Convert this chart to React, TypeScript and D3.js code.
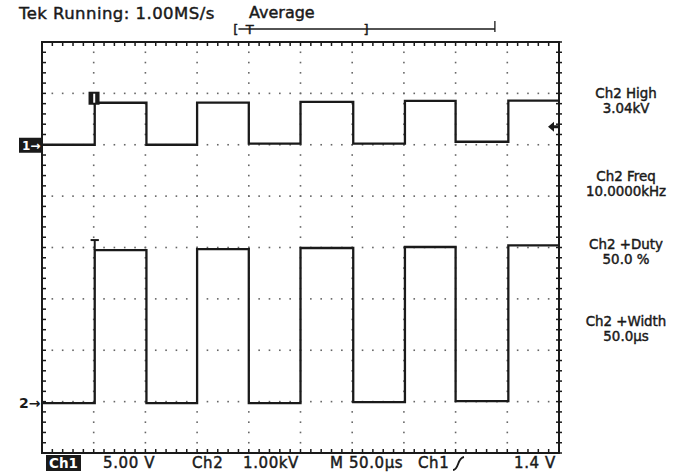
import React from 'react';
import * as d3 from 'd3';

// edge times of the square waves (µs)
const edgeTimes = [0, 51, 101, 150, 200, 250, 301, 351, 400, 451, 500];
// Ch1 level after each edge (V)
const ch1Volts = [0, 4.09, 0.0, 4.1, 0.1, 4.18, 0.1, 4.27, 0.29, 4.3, 4.3];
// Ch2 level after each edge (kV)
const ch2KVolts = [0, 2.98, 0.0, 3.0, 0.0, 3.02, 0.02, 3.04, 0.04, 3.07, 3.07];

const ch1VoltsPerDiv = 5;
const ch2KVPerDiv = 1;
const ch1Offset = 2.0; // divisions above centre
const ch2Offset = -3.03;

const measurements = [
  ['Ch2 High', '3.04kV'],
  ['Ch2 Freq', '10.0000kHz'],
  ['Ch2 +Duty', '50.0 %'],
  ['Ch2 +Width', '50.0µs'],
];
const measureY = [98, 181, 249, 326];

const bottomLabels = [
  { text: '5.00 V', x: 103 },
  { text: 'Ch2', x: 192 },
  { text: '1.00kV', x: 243 },
  { text: 'M 50.0µs', x: 330 },
  { text: 'Ch1', x: 418 },
  { text: '1.4 V', x: 514 },
];

const W = 685, H = 472;
const left = 42, right = 559, top = 42, bottom = 453;
const font = "'DejaVu Sans', sans-serif";
const ink = '#1a1a1a';
const heavy = { stroke: ink, strokeWidth: 0.45 };

export default function App() {
  const x = d3.scaleLinear().domain([0, 500]).range([left, right]);
  const y = d3.scaleLinear().domain([-4, 4]).range([bottom, top]);

  const ch1 = edgeTimes.map((t, i) => ({ t, v: ch1Offset + ch1Volts[i] / ch1VoltsPerDiv }));
  const ch2 = edgeTimes.map((t, i) => ({ t, v: ch2Offset + ch2KVolts[i] / ch2KVPerDiv }));
  const line = d3.line<{ t: number; v: number }>()
    .x(d => x(d.t))
    .y(d => y(d.v))
    .curve(d3.curveStepAfter);

  const minorT = d3.range(0, 500.01, 10);
  const minorV = d3.range(-4, 4.01, 0.2);
  const majorT = d3.range(50, 500, 50);
  const majorV = d3.range(-3, 4, 1);

  const dots: JSX.Element[] = [];
  majorT.forEach(t => minorV.slice(1, -1).forEach(v => {
    dots.push(<rect key={'v' + t + '_' + v} x={x(t) - 0.8} y={y(v) - 0.8} width={1.6} height={1.6} fill="#666" />);
  }));
  majorV.forEach(v => minorT.slice(1, -1).forEach(t => {
    dots.push(<rect key={'h' + v + '_' + t} x={x(t) - 0.8} y={y(v) - 0.8} width={1.6} height={1.6} fill="#666" />);
  }));

  const ch1High = y(ch1Offset + ch1Volts[1] / ch1VoltsPerDiv);
  const ch2High = y(ch2Offset + ch2KVolts[1] / ch2KVPerDiv);

  return (
    <svg width={W} height={H} style={{ position: 'absolute', left: 0, top: 0, background: '#fff' }}>
      <text x={19} y={19} fontFamily={font} fontSize={16.5} letterSpacing={0.45} fill={ink} {...heavy}>Tek Running: 1.00MS/s</text>
      <text x={249} y={18} fontFamily={font} fontSize={16} fill={ink} {...heavy}>Average</text>

      {/* trigger position bar */}
      <line x1={x(190)} x2={x(438)} y1={29} y2={29} stroke={ink} strokeWidth={1.3} />
      <text x={x(185)} y={34} fontFamily={font} fontSize={13} fill={ink} {...heavy}>[</text>
      <text x={x(197)} y={34} fontFamily={font} fontSize={13} fill={ink} {...heavy}>T</text>
      <text x={x(311)} y={34} fontFamily={font} fontSize={13} fill={ink} {...heavy}>]</text>
      <line x1={x(438)} x2={x(438)} y1={21} y2={32} stroke={ink} strokeWidth={1.3} />

      {dots}

      {/* border + ticks */}
      <rect x={left} y={top} width={right - left} height={bottom - top} fill="none" stroke={ink} strokeWidth={2} />
      {minorT.map(t => (
        <g key={'tt' + t}>
          <line x1={x(t)} x2={x(t)} y1={top} y2={top + 4} stroke={ink} strokeWidth={1.5} />
          <line x1={x(t)} x2={x(t)} y1={bottom} y2={bottom - 4} stroke={ink} strokeWidth={1.5} />
        </g>
      ))}
      {minorV.map(v => (
        <g key={'tv' + v}>
          <line x1={left} x2={left + 4} y1={y(v)} y2={y(v)} stroke={ink} strokeWidth={1.5} />
          <line x1={right - 3} x2={right + 3} y1={y(v)} y2={y(v)} stroke={ink} strokeWidth={1.5} />
        </g>
      ))}

      {/* traces */}
      <path d={line(ch1) || ''} fill="none" stroke={ink} strokeWidth={2.3} />
      <path d={line(ch2) || ''} fill="none" stroke={ink} strokeWidth={2.3} />

      {/* channel markers */}
      <rect x={19} y={y(ch1Offset) - 7} width={22} height={15} fill={ink} />
      <text x={22} y={y(ch1Offset) + 5} fontFamily={font} fontSize={12} fontWeight="bold" fill="#fff">1→</text>
      <text x={19} y={y(ch2Offset) + 5} fontFamily={font} fontSize={14} fontWeight="bold" fill={ink}>2→</text>
      <rect x={x(45)} y={ch1High - 11} width={11} height={13} fill={ink} />
      <line x1={x(50.5)} x2={x(50.5)} y1={ch1High - 9} y2={ch1High} stroke="#fff" strokeWidth={2} />
      <line x1={x(47)} x2={x(55)} y1={ch2High - 10} y2={ch2High - 10} stroke={ink} strokeWidth={2} />
      <line x1={x(51)} x2={x(51)} y1={ch2High - 10} y2={ch2High} stroke={ink} strokeWidth={2} />
      {/* trigger level arrow */}
      <path d={`M${right - 11},${y(2.35)} l6,-5 v3.5 h5 v3 h-5 v3.5 z`} fill={ink} />

      {/* measurements */}
      {measurements.map((m, i) => (
        <g key={m[0]} fontFamily={font} fontSize={13.4} fill={ink} textAnchor="middle" {...heavy}>
          <text x={626} y={measureY[i]}>{m[0]}</text>
          <text x={626} y={measureY[i] + 14.5}>{m[1]}</text>
        </g>
      ))}

      {/* bottom readout */}
      <rect x={46} y={455} width={35} height={16} fill={ink} />
      <text x={49} y={468} fontFamily={font} fontSize={13.5} fontWeight="bold" fill="#fff">Ch1</text>
      {bottomLabels.map(b => (
        <text key={b.text} x={b.x} y={468} fontFamily={font} fontSize={15} letterSpacing={0.6} fill={ink} {...heavy}>{b.text}</text>
      ))}
      <path d="M453,470 C459,470 457,458 464,457" fill="none" stroke={ink} strokeWidth={1.8} />
    </svg>
  );
}
